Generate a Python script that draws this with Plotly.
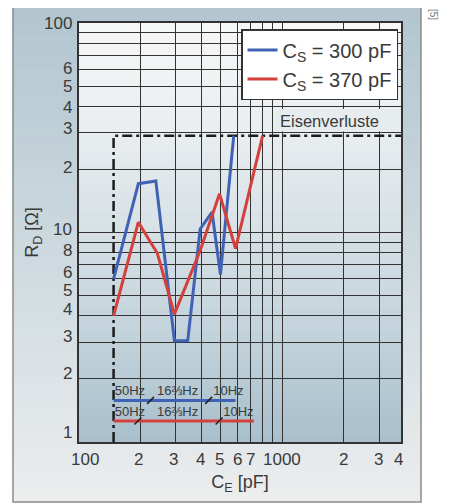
import numpy as np
import plotly.graph_objects as go

# ---------------- data ----------------
cs300_name = "C<sub>S</sub> = 300 pF"
cs300_x = [148, 196, 239, 295, 343, 395, 452, 497, 578]
cs300_y = [6.0, 17.1, 17.6, 3.04, 3.04, 10.4, 12.5, 6.3, 29]

cs370_name = "C<sub>S</sub> = 370 pF"
cs370_x = [148, 196, 243, 295, 395, 492, 590, 802]
cs370_y = [4.0, 11.2, 7.96, 4.08, 8.2, 15.3, 8.38, 29]

X_MIN, X_MAX = 100, 3850
Y_MIN, Y_MAX = 1, 100

limit_x = [148, 148, X_MAX]
limit_y = [Y_MIN, 29, 29]
limit_label = "Eisenverluste"

band300_x = [148, 590]
band300_y = [1.58, 1.58]
band300_marks_x = [225, 435]
band370_x = [148, 725]
band370_y = [1.26, 1.26]
band370_marks_x = [195, 490]

band_labels = ["50Hz", "16⅔Hz", "10Hz"]
band300_label_x = [150, 242, 458]
band300_label_y = [1.73, 1.73, 1.73]
band370_label_x = [150, 242, 513]
band370_label_y = [1.374, 1.374, 1.374]

x_grid = [200, 300, 400, 500, 600, 700, 800, 900, 1000, 2000, 3000]
y_grid = [2, 3, 4, 5, 6, 7, 8, 9, 10, 20, 30, 40, 50, 60, 70, 80, 90, 100]

x_tick_vals = [100, 200, 300, 400, 500, 600, 700, 1000, 2000, 3000, 4000]
x_tick_text = ["100", "2", "3", "4", "5", "6", "7", "1000", "2", "3", "4"]
x_tick_shift = [6, -2, -2, -1, -1, 0, 0, 0, 0, -1, -6]

y_tick_vals = [100, 60, 50, 40, 30, 20, 10, 8, 6, 5, 4, 3, 2, 1]
y_tick_text = ["100", "6", "5", "4", "3", "2", "10", "8", "6", "5", "4", "3", "2", "1"]
y_tick_shift = [0, 1, 0, -1, 4, 2, 3, 2, 6, 5, 6, 6, 5, 10]

# ---------------- styling ----------------
OFF = 8                      # page body margin of the browser
W, H = 449 - OFF, 504 - OFF  # figure size so it fills the window
# plot area in window pixels
PL, PR, PT, PB = 79, 401, 23, 442
BLUE = "#3f62b5"
RED = "#d4403b"
INK = "#3a3a3a"
FONT = "Liberation Sans"

def px2paper_x(px):
    return (px - PL) / (PR - PL)

def px2paper_y(py):
    return (PB - py) / (PB - PT)

def interp_color(stops, py):
    ys = [s[0] for s in stops]
    for i in range(len(stops) - 1):
        if ys[i] <= py <= ys[i + 1]:
            t = (py - ys[i]) / (ys[i + 1] - ys[i])
            c0 = np.array([int(stops[i][1][k:k + 2], 16) for k in (1, 3, 5)])
            c1 = np.array([int(stops[i + 1][1][k:k + 2], 16) for k in (1, 3, 5)])
            c = np.round(c0 + (c1 - c0) * t).astype(int)
            return "rgb(%d,%d,%d)" % tuple(c)
    return stops[-1][1]

shapes = []
# outer frame gradient (blue-grey at top to light at bottom)
FX0, FX1, FY0, FY1 = 13, 421, 5, 502
frame_stops = [(FY0, "#b2c5cf"), (250, "#cdd9df"), (FY1, "#ecedee")]
n = 60
for i in range(n):
    y0 = FY0 + (FY1 - FY0) * i / n
    y1 = FY0 + (FY1 - FY0) * (i + 1) / n + 0.6
    shapes.append(dict(type="rect", xref="paper", yref="paper",
                       x0=px2paper_x(FX0), x1=px2paper_x(FX1),
                       y0=px2paper_y(min(y1, FY1)), y1=px2paper_y(y0),
                       fillcolor=interp_color(frame_stops, (y0 + y1) / 2),
                       line=dict(width=0), layer="below"))
# plot area gradient (light at top to blue-grey at bottom)
plot_stops = [(PT, "#f6f7f7"), (130, "#e9eef0"), (250, "#d3dee4"), (350, "#bfd0d9"), (PB, "#a8bfcc")]
for i in range(n):
    y0 = PT + (PB - PT) * i / n
    y1 = PT + (PB - PT) * (i + 1) / n + 0.6
    shapes.append(dict(type="rect", xref="paper", yref="paper",
                       x0=0, x1=1, y0=px2paper_y(min(y1, PB)), y1=px2paper_y(y0),
                       fillcolor=interp_color(plot_stops, (y0 + y1) / 2),
                       line=dict(width=0), layer="below"))
# frame border
shapes.append(dict(type="rect", xref="paper", yref="paper",
                   x0=px2paper_x(FX0), x1=px2paper_x(FX1),
                   y0=px2paper_y(FY1), y1=px2paper_y(FY0),
                   line=dict(color="#8a8a8a", width=1.5), layer="below"))
# Eisenverluste label box
shapes.append(dict(type="rect", xref="paper", yref="paper",
                   x0=px2paper_x(274), x1=1, y0=px2paper_y(131.5), y1=px2paper_y(109),
                   fillcolor="#e7ecee", line=dict(width=0), layer="above"))

fig = go.Figure()

# limit (iron loss) line
fig.add_trace(go.Scatter(x=limit_x, y=limit_y, mode="lines", showlegend=False,
                         line=dict(color="#1c1c1c", width=2.5, dash="10px,4px,3px,4px"),
                         hoverinfo="skip"))

# curves
fig.add_trace(go.Scatter(x=cs300_x, y=cs300_y, mode="lines", name=cs300_name,
                         line=dict(color=BLUE, width=3)))
fig.add_trace(go.Scatter(x=cs370_x, y=cs370_y, mode="lines", name=cs370_name,
                         line=dict(color=RED, width=3)))

# frequency bands
fig.add_trace(go.Scatter(x=band300_x, y=band300_y, mode="lines", showlegend=False,
                         line=dict(color=BLUE, width=3)))
fig.add_trace(go.Scatter(x=band370_x, y=band370_y, mode="lines", showlegend=False,
                         line=dict(color=RED, width=3)))
fig.add_trace(go.Scatter(x=band300_marks_x, y=[band300_y[0]] * len(band300_marks_x),
                         mode="markers", showlegend=False,
                         marker=dict(symbol="line-ne", size=7, line=dict(color="#222", width=1.5))))
fig.add_trace(go.Scatter(x=band370_marks_x, y=[band370_y[0]] * len(band370_marks_x),
                         mode="markers", showlegend=False,
                         marker=dict(symbol="line-ne", size=7, line=dict(color="#222", width=1.5))))
BAND_FONT = dict(family="Liberation Sans Narrow, Liberation Sans, Arial, sans-serif", size=13, color=INK)
fig.add_trace(go.Scatter(x=band300_label_x, y=band300_label_y, mode="text", text=band_labels,
                         textposition="middle right", showlegend=False, textfont=BAND_FONT))
fig.add_trace(go.Scatter(x=band370_label_x, y=band370_label_y, mode="text", text=band_labels,
                         textposition="middle right", showlegend=False, textfont=BAND_FONT))

annotations = []
for v, t, s in zip(x_tick_vals, x_tick_text, x_tick_shift):
    if v <= X_MAX:
        annotations.append(dict(x=np.log10(v), xref="x", y=px2paper_y(459), yref="paper",
                                text=t, showarrow=False, xanchor="center", yanchor="middle",
                                xshift=s, font=dict(family=FONT, size=17, color=INK)))
    else:
        frac = (np.log10(v) - np.log10(X_MIN)) / (np.log10(X_MAX) - np.log10(X_MIN))
        annotations.append(dict(x=frac, xref="paper", y=px2paper_y(459), yref="paper",
                                text=t, showarrow=False, xanchor="center", yanchor="middle",
                                xshift=s, font=dict(family=FONT, size=17, color=INK)))
for v, t, s in zip(y_tick_vals, y_tick_text, y_tick_shift):
    annotations.append(dict(x=0, xref="paper", y=np.log10(v), yref="y", text=t,
                            showarrow=False, xanchor="right", yanchor="middle",
                            xshift=-5, yshift=s, font=dict(family=FONT, size=17, color=INK)))
annotations.append(dict(x=px2paper_x(329), y=px2paper_y(121), xref="paper", yref="paper",
                        text=limit_label, showarrow=False, xanchor="center", yanchor="middle",
                        font=dict(family=FONT, size=16.5, color=INK)))
annotations.append(dict(x=px2paper_x(434), y=px2paper_y(14), xref="paper", yref="paper",
                        text="[5]", showarrow=False, textangle=90, xanchor="center", yanchor="middle",
                        font=dict(family=FONT, size=10, color="#777")))

fig.update_layout(
    width=W, height=H,
    margin=dict(l=PL - OFF, r=(449 - PR), t=PT - OFF, b=(504 - PB), pad=0),
    paper_bgcolor="white",
    plot_bgcolor="rgba(0,0,0,0)",
    font=dict(family=FONT, color=INK),
    shapes=shapes,
    annotations=annotations,
    showlegend=True,
    legend=dict(x=px2paper_x(398), xanchor="right", y=px2paper_y(29), yanchor="top",
                bgcolor="white", bordercolor="#333", borderwidth=1.5,
                font=dict(family=FONT, size=20, color=INK), itemwidth=30,
                tracegroupgap=0),
    xaxis=dict(type="log", range=[np.log10(X_MIN), np.log10(X_MAX)],
               tickvals=x_grid, showticklabels=False, ticks="",
               showgrid=True, gridcolor="#333", gridwidth=1,
               showline=True, mirror=True, linecolor="#333", linewidth=1.5, zeroline=False,
               title=dict(text="C<sub>E</sub> [pF]", standoff=33,
                          font=dict(family=FONT, size=18, color=INK))),
    yaxis=dict(type="log", range=[np.log10(Y_MIN), np.log10(Y_MAX)],
               tickvals=y_grid, showticklabels=False, ticks="",
               showgrid=True, gridcolor="#333", gridwidth=1,
               showline=True, mirror=True, linecolor="#333", linewidth=1.5, zeroline=False,
               title=dict(text="R<sub>D</sub> [Ω]", standoff=34,
                          font=dict(family=FONT, size=18, color=INK))),
)

fig.write_html("out.html")
